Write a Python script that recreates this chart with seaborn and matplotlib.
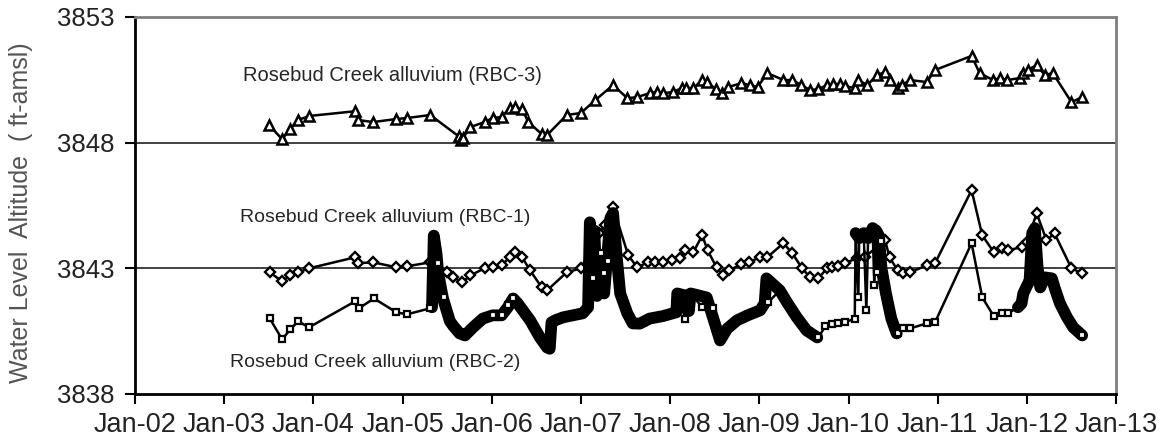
import numpy as np
import pandas as pd
import matplotlib
matplotlib.use("Agg")
import matplotlib.pyplot as plt
import matplotlib.dates as mdates
import seaborn as sns

# values (decimal years, ft-amsl)
rbc3_yr = [2003.50, 2003.65, 2003.74, 2003.83, 2003.95, 2004.47, 2004.50, 2004.67, 2004.93, 2005.05,
           2005.31, 2005.63, 2005.66, 2005.68, 2005.76, 2005.92, 2006.01, 2006.11, 2006.20, 2006.26,
           2006.34, 2006.41, 2006.56, 2006.62, 2006.84, 2007.00, 2007.16, 2007.36, 2007.52, 2007.63,
           2007.77, 2007.85, 2007.92, 2008.03, 2008.13, 2008.18, 2008.26, 2008.36, 2008.41, 2008.51,
           2008.58, 2008.65, 2008.80, 2008.89, 2008.98, 2009.09, 2009.27, 2009.37, 2009.47, 2009.57,
           2009.66, 2009.76, 2009.83, 2009.90, 2009.96, 2010.07, 2010.11, 2010.21, 2010.32, 2010.41,
           2010.46, 2010.55, 2010.60, 2010.69, 2010.88, 2010.97, 2011.38, 2011.47, 2011.62, 2011.70,
           2011.78, 2011.92, 2011.96, 2012.01, 2012.11, 2012.20, 2012.29, 2012.50, 2012.62]
rbc3_val = [3848.70, 3848.14, 3848.54, 3848.90, 3849.06, 3849.25, 3848.90, 3848.82, 3848.94, 3848.98,
            3849.10, 3848.25, 3848.12, 3848.20, 3848.62, 3848.82, 3848.98, 3849.02, 3849.37, 3849.41,
            3849.33, 3848.82, 3848.34, 3848.30, 3849.10, 3849.18, 3849.69, 3850.29, 3849.77, 3849.81,
            3849.97, 3850.01, 3849.97, 3850.01, 3850.17, 3850.17, 3850.17, 3850.49, 3850.41, 3850.13,
            3849.97, 3850.21, 3850.37, 3850.29, 3850.21, 3850.77, 3850.49, 3850.49, 3850.29, 3850.09,
            3850.13, 3850.29, 3850.33, 3850.33, 3850.25, 3850.17, 3850.49, 3850.29, 3850.69, 3850.81,
            3850.49, 3850.17, 3850.29, 3850.49, 3850.41, 3850.89, 3851.45, 3850.77, 3850.49, 3850.57,
            3850.49, 3850.57, 3850.77, 3850.89, 3851.09, 3850.69, 3850.77, 3849.61, 3849.81]

rbc1_yr = [2003.51, 2003.65, 2003.74, 2003.83, 2003.95, 2004.47, 2004.50, 2004.67, 2004.93, 2005.05,
           2005.31, 2005.50, 2005.57, 2005.67, 2005.76, 2005.92, 2006.01, 2006.11, 2006.20, 2006.26,
           2006.34, 2006.43, 2006.56, 2006.62, 2006.84, 2007.00, 2007.20, 2007.27, 2007.36, 2007.53,
           2007.63, 2007.75, 2007.83, 2007.92, 2008.02, 2008.11, 2008.17, 2008.26, 2008.36, 2008.42,
           2008.52, 2008.59, 2008.66, 2008.80, 2008.88, 2009.01, 2009.09, 2009.27, 2009.37, 2009.48,
           2009.57, 2009.66, 2009.76, 2009.81, 2009.88, 2009.96, 2010.09, 2010.18, 2010.41, 2010.46,
           2010.55, 2010.61, 2010.69, 2010.88, 2010.97, 2011.38, 2011.50, 2011.63, 2011.72, 2011.79,
           2011.94, 2012.00, 2012.11, 2012.22, 2012.31, 2012.50, 2012.62]
rbc1_val = [3842.84, 3842.48, 3842.72, 3842.84, 3843.00, 3843.44, 3843.20, 3843.24, 3843.04, 3843.08,
            3843.24, 3842.84, 3842.64, 3842.44, 3842.72, 3843.00, 3843.04, 3843.12, 3843.44, 3843.64,
            3843.44, 3842.92, 3842.24, 3842.12, 3842.84, 3843.00, 3844.40, 3844.71, 3845.43, 3843.52,
            3843.04, 3843.24, 3843.24, 3843.24, 3843.32, 3843.40, 3843.72, 3843.64, 3844.31, 3843.72,
            3843.04, 3842.72, 3842.92, 3843.16, 3843.24, 3843.44, 3843.44, 3844.00, 3843.60, 3843.00,
            3842.64, 3842.60, 3843.00, 3843.04, 3843.08, 3843.20, 3843.40, 3843.44, 3844.12, 3843.44,
            3842.92, 3842.80, 3842.84, 3843.12, 3843.20, 3846.11, 3844.31, 3843.64, 3843.80, 3843.72,
            3843.84, 3844.04, 3845.19, 3844.12, 3844.39, 3843.00, 3842.80]

# RBC-2 manual measurements (squares)
rbc2_yr = [2003.51, 2003.65, 2003.74, 2003.83, 2003.95, 2004.47, 2004.51, 2004.68, 2004.93, 2005.05,
           2005.31, 2005.40, 2005.47, 2006.01, 2006.11, 2006.18, 2006.24, 2007.13, 2007.22, 2007.26,
           2007.30, 2008.17, 2008.36, 2008.48, 2009.10, 2009.66, 2009.74, 2009.81, 2009.88, 2009.96,
           2010.07, 2010.11, 2010.20, 2010.29, 2010.32, 2010.36, 2010.55, 2010.61, 2010.69, 2010.88,
           2010.97, 2011.38, 2011.50, 2011.63, 2011.72, 2011.79, 2012.62]
rbc2_val = [3841.01, 3840.17, 3840.57, 3840.89, 3840.65, 3841.69, 3841.41, 3841.80, 3841.25, 3841.17,
            3841.41, 3843.20, 3841.84, 3841.13, 3841.13, 3841.53, 3841.80, 3842.60, 3843.60, 3842.80,
            3843.30, 3841.00, 3841.45, 3841.41, 3841.65, 3840.25, 3840.69, 3840.77, 3840.81, 3840.85,
            3841.00, 3841.84, 3841.33, 3842.32, 3842.84, 3844.10, 3840.41, 3840.61, 3840.61, 3840.81,
            3840.85, 3844.00, 3841.84, 3841.09, 3841.21, 3841.21, 3840.33]

# RBC-2 continuous logger record (dense band)
log1_yr = [2005.33, 2005.35, 2005.38, 2005.40, 2005.45, 2005.53, 2005.57, 2005.64, 2005.70, 2005.79,
           2005.90, 2006.01, 2006.11, 2006.18, 2006.24, 2006.29, 2006.43, 2006.54, 2006.62, 2006.65,
           2006.67, 2006.71, 2006.80, 2006.91, 2007.02, 2007.08, 2007.10, 2007.13, 2007.15, 2007.18,
           2007.22, 2007.26, 2007.30, 2007.33, 2007.36, 2007.40, 2007.44, 2007.52, 2007.58, 2007.66,
           2007.77, 2007.92, 2008.03, 2008.07, 2008.08, 2008.19, 2008.21, 2008.23, 2008.41, 2008.48,
           2008.56, 2008.64, 2008.75, 2008.87, 2009.01, 2009.06, 2009.08, 2009.23, 2009.31, 2009.42,
           2009.53, 2009.65]
log1_val = [3841.45, 3844.30, 3843.60, 3842.80, 3841.84, 3840.90, 3840.70, 3840.41, 3840.33, 3840.65,
            3841.00, 3841.13, 3841.13, 3841.45, 3841.80, 3841.61, 3840.93, 3840.25, 3839.85, 3839.80,
            3840.85, 3840.93, 3841.05, 3841.13, 3841.21, 3841.45, 3844.83, 3842.00, 3844.50, 3841.90,
            3843.40, 3842.00, 3843.70, 3845.00, 3845.20, 3843.50, 3842.00, 3841.21, 3840.81, 3840.80,
            3841.00, 3841.10, 3841.21, 3841.25, 3842.00, 3841.90, 3841.30, 3842.00, 3841.84, 3841.05,
            3840.13, 3840.60, 3840.93, 3841.13, 3841.33, 3841.61, 3842.60, 3842.12, 3841.65, 3841.05,
            3840.53, 3840.25]
log2_yr = [2010.08, 2010.12, 2010.17, 2010.22, 2010.27, 2010.31, 2010.34, 2010.37, 2010.42, 2010.48,
           2010.54]
log2_val = [3844.40, 3844.20, 3844.40, 3844.20, 3844.60, 3844.50, 3844.30, 3843.00, 3842.00, 3841.00,
            3840.41]
log3_yr = [2011.90, 2011.94, 2011.96, 2012.00, 2012.03, 2012.06, 2012.09, 2012.12, 2012.15, 2012.20,
           2012.28, 2012.31, 2012.37, 2012.45, 2012.52, 2012.62]
log3_val = [3841.45, 3841.60, 3842.00, 3842.30, 3842.50, 3844.40, 3844.60, 3843.04, 3842.24, 3842.64,
            3842.60, 3842.24, 3841.61, 3841.05, 3840.65, 3840.33]

year_ticks = list(range(2002, 2014))
y_ticks = [3838, 3843, 3848, 3853]


def to_dates(yrs):
    base = pd.Timestamp("2002-01-01")
    return base + pd.to_timedelta((np.asarray(yrs) - 2002) * 365.25, unit="D")


def main():
    sns.set_style("white")
    plt.rcParams["font.family"] = ["Liberation Sans", "DejaVu Sans"]

    fig = plt.figure(figsize=(11.59, 4.41), dpi=100)
    ax = fig.add_axes([0.1165, 0.1066, 0.8465, 0.8549])

    for g in [3843, 3848]:
        ax.axhline(g, color="#404040", lw=1.4, zorder=1)

    sns.lineplot(x=to_dates(rbc3_yr), y=rbc3_val, ax=ax, color="black", lw=1.8,
                 marker="^", markersize=7.5, markerfacecolor="white", markeredgecolor="black",
                 markeredgewidth=1.8, estimator=None, sort=False, zorder=3)
    sns.lineplot(x=to_dates(rbc1_yr), y=rbc1_val, ax=ax, color="black", lw=1.8,
                 marker="D", markersize=5.5, markerfacecolor="white", markeredgecolor="black",
                 markeredgewidth=1.7, estimator=None, sort=False, zorder=3)

    # RBC-2: manual and logger values joined in time order, band drawn thick
    all2 = pd.DataFrame({"yr": rbc2_yr + log1_yr + log2_yr + log3_yr,
                         "val": rbc2_val + log1_val + log2_val + log3_val}).sort_values("yr")
    sns.lineplot(x=to_dates(all2["yr"]), y=all2["val"].values, ax=ax, color="black", lw=1.8,
                 estimator=None, sort=False, zorder=3)
    for yr, val in [(log1_yr, log1_val), (log2_yr, log2_val), (log3_yr, log3_val)]:
        sns.lineplot(x=to_dates(yr), y=val, ax=ax, color="black", lw=8.5,
                     estimator=None, sort=False, zorder=4)
    sns.lineplot(x=to_dates(rbc2_yr), y=rbc2_val, ax=ax, color="black", lw=0,
                 marker="s", markersize=5, markerfacecolor="white", markeredgecolor="black",
                 markeredgewidth=1.6, estimator=None, sort=False, zorder=5)

    ax.text(to_dates([2003.21])[0], 3850.69, "Rosebud Creek alluvium (RBC-3)",
            fontsize=14.5, color="#262626", va="center", ha="left")
    ax.text(to_dates([2003.18])[0], 3845.03, "Rosebud Creek alluvium (RBC-1)",
            fontsize=14, color="#262626", va="center", ha="left")
    ax.text(to_dates([2003.07])[0], 3839.26, "Rosebud Creek alluvium (RBC-2)",
            fontsize=14, color="#262626", va="center", ha="left")

    ax.set_xlim(pd.Timestamp("2002-01-01"), pd.Timestamp("2013-01-01"))
    ax.set_ylim(3838, 3853)
    ax.set_xticks([pd.Timestamp(f"{y}-01-01") for y in year_ticks])
    ax.xaxis.set_major_formatter(mdates.DateFormatter("%b-%y"))
    ax.set_yticks(y_ticks)
    ax.tick_params(axis="x", labelsize=19.5, direction="out", length=7, width=1.5,
                   color="black", pad=6, bottom=True)
    ax.tick_params(axis="y", labelsize=18.5, direction="out", length=7, width=1.5,
                   color="black", pad=8, left=True)
    for lab in ax.get_xticklabels() + ax.get_yticklabels():
        lab.set_color("#222222")

    ax.set_ylabel("Water Level  Altitude  ( ft-amsl)", fontsize=18, color="#555555")
    ax.yaxis.set_label_coords(-0.104, 0.48)
    ax.set_xlabel("")

    for side in ["left", "bottom"]:
        ax.spines[side].set_color("black")
        ax.spines[side].set_linewidth(2)
    for side in ["top", "right"]:
        ax.spines[side].set_color("#7f7f7f")
        ax.spines[side].set_linewidth(2)

    fig.savefig("out.png", dpi=100)


if __name__ == "__main__":
    main()
